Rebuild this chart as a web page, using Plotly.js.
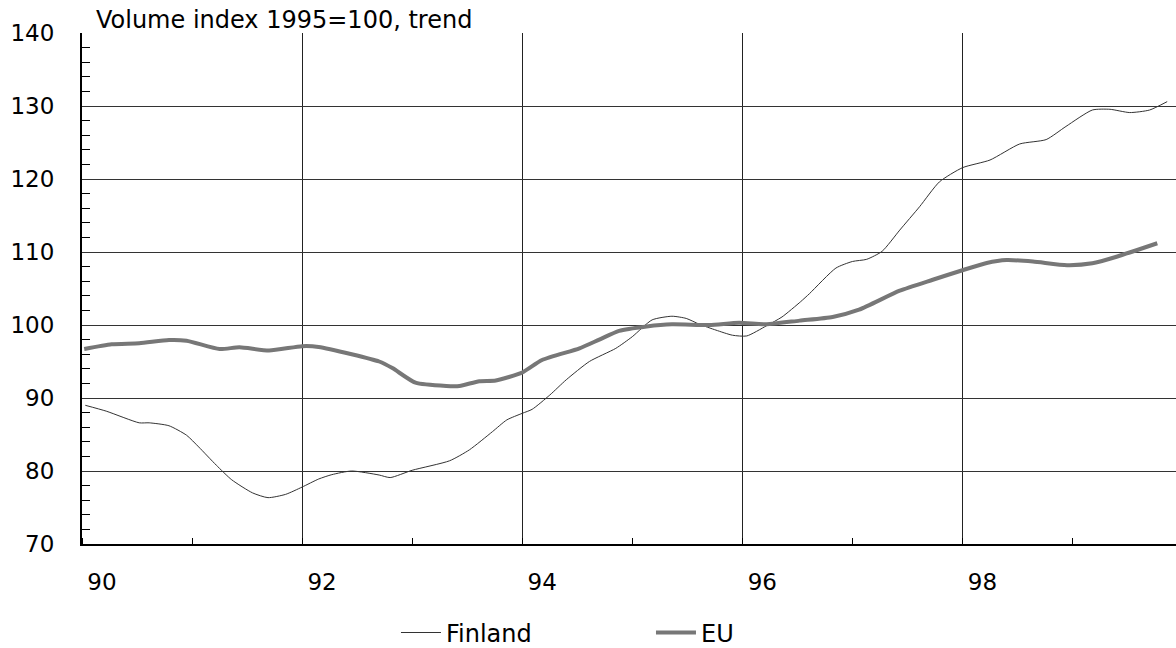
<!DOCTYPE html>
<html>
<head>
<meta charset="utf-8">
<script src="https://cdn.plot.ly/plotly-3.0.1.min.js"></script>
<style>html,body{margin:0;padding:0;background:#fff;}#chart{width:1176px;height:648px;}</style>
</head>
<body>
<div id="chart"></div>
<script>
const chartTitle = 'Volume index 1995=100, trend';
const seriesNames = ['Finland', 'EU'];

const finlandYears = [1990.03, 1990.22, 1990.52, 1990.61, 1990.79, 1990.95, 1991.06, 1991.22, 1991.36, 1991.55, 1991.69, 1991.85, 1992.0, 1992.15, 1992.27, 1992.45, 1992.7, 1992.8, 1993.0, 1993.34, 1993.52, 1993.73, 1993.86, 1994.0, 1994.09, 1994.25, 1994.4, 1994.61, 1994.85, 1995.0, 1995.18, 1995.36, 1995.49, 1995.61, 1995.76, 1995.91, 1996.04, 1996.22, 1996.36, 1996.53, 1996.61, 1996.85, 1997.0, 1997.13, 1997.27, 1997.43, 1997.61, 1997.79, 1998.0, 1998.25, 1998.52, 1998.76, 1998.94, 1999.18, 1999.34, 1999.52, 1999.7, 1999.86];
const finlandValues = [89.0, 88.2, 86.6, 86.6, 86.2, 84.9, 83.3, 80.8, 78.8, 77.0, 76.35, 76.8, 77.8, 78.9, 79.5, 80.0, 79.45, 79.1, 80.1, 81.4, 82.9, 85.4, 87.0, 87.9, 88.45, 90.4, 92.5, 95.0, 96.8, 98.4, 100.7, 101.2, 100.9, 100.1, 99.3, 98.6, 98.5, 99.9, 101.1, 103.2, 104.3, 107.8, 108.7, 109.0, 110.1, 113.0, 116.2, 119.6, 121.55, 122.6, 124.8, 125.4, 127.2, 129.45, 129.55, 129.1, 129.45, 130.6];

const euYears = [1990.02, 1990.27, 1990.52, 1990.79, 1990.95, 1991.25, 1991.43, 1991.7, 1992.0, 1992.15, 1992.45, 1992.7, 1992.82, 1993.03, 1993.31, 1993.43, 1993.61, 1993.76, 1994.0, 1994.18, 1994.52, 1994.7, 1994.88, 1995.13, 1995.36, 1995.7, 1995.97, 1996.22, 1996.52, 1996.82, 1997.06, 1997.43, 1997.73, 1998.0, 1998.22, 1998.4, 1998.64, 1998.95, 1999.18, 1999.4, 1999.77];
const euValues = [96.7, 97.35, 97.5, 97.95, 97.85, 96.7, 96.95, 96.5, 97.1, 97.0, 96.0, 95.0, 94.1, 92.1, 91.65, 91.65, 92.3, 92.4, 93.5, 95.2, 96.8, 98.0, 99.2, 99.8, 100.1, 100.0, 100.3, 100.1, 100.6, 101.1, 102.1, 104.7, 106.2, 107.5, 108.5, 108.9, 108.7, 108.2, 108.45, 109.35, 111.2];

const xTickVals = [1990, 1992, 1994, 1996, 1998];
const xTickText = ['90', '92', '94', '96', '98'];

const FONT = 'DejaVu Sans, Liberation Sans, Arial, sans-serif';

const traces = [
  {x: finlandYears, y: finlandValues, name: seriesNames[0], type: 'scatter', mode: 'lines',
   line: {color: '#333333', width: 1, shape: 'spline', smoothing: 0.6}},
  {x: euYears, y: euValues, name: seriesNames[1], type: 'scatter', mode: 'lines',
   line: {color: '#777777', width: 4, shape: 'spline', smoothing: 0.6}}
];

const layout = {
  width: 1176, height: 648,
  margin: {l: 82, r: 0, t: 33, b: 104, autoexpand: false},
  paper_bgcolor: '#ffffff', plot_bgcolor: '#ffffff',
  font: {family: FONT, size: 23, color: '#000000'},
  title: {text: chartTitle, font: {family: FONT, size: 24, color: '#000'},
          xref: 'container', x: 96/1176, xanchor: 'left', yref: 'container', y: 1 - 20/648, yanchor: 'middle'},
  showlegend: true,
  legend: {orientation: 'h', xref: 'paper', x: 0.287, xanchor: 'left', y: -0.174, yanchor: 'middle',
           font: {family: FONT, size: 24, color: '#000'}, itemwidth: 40, entrywidth: 200, bgcolor: 'rgba(0,0,0,0)'},
  xaxis: {
    range: [1990, 1999.94], tickvals: xTickVals, ticktext: xTickText,
    showgrid: true, gridcolor: '#222222', gridwidth: 1, zeroline: false,
    showline: true, linecolor: '#000', linewidth: 2, ticks: '',
    ticklabelshift: 20, ticklabelstandoff: 16,
    tickfont: {family: FONT, size: 23, color: '#000'},
    minor: {dtick: 1, tick0: 1990, ticks: 'inside', ticklen: 6, tickcolor: '#000', tickwidth: 1, showgrid: false}
  },
  yaxis: {
    range: [70, 140], dtick: 10, tick0: 70,
    showgrid: true, gridcolor: '#333333', gridwidth: 1, zeroline: false,
    showline: true, linecolor: '#000', linewidth: 2, ticks: '',
    ticklabelstandoff: 21,
    tickfont: {family: FONT, size: 23, color: '#000'},
    minor: {dtick: 2, tick0: 70, ticks: 'inside', ticklen: 8, tickcolor: '#000', tickwidth: 1, showgrid: false}
  }
};

Plotly.newPlot('chart', traces, layout, {staticPlot: true, displayModeBar: false});
</script>
</body>
</html>
